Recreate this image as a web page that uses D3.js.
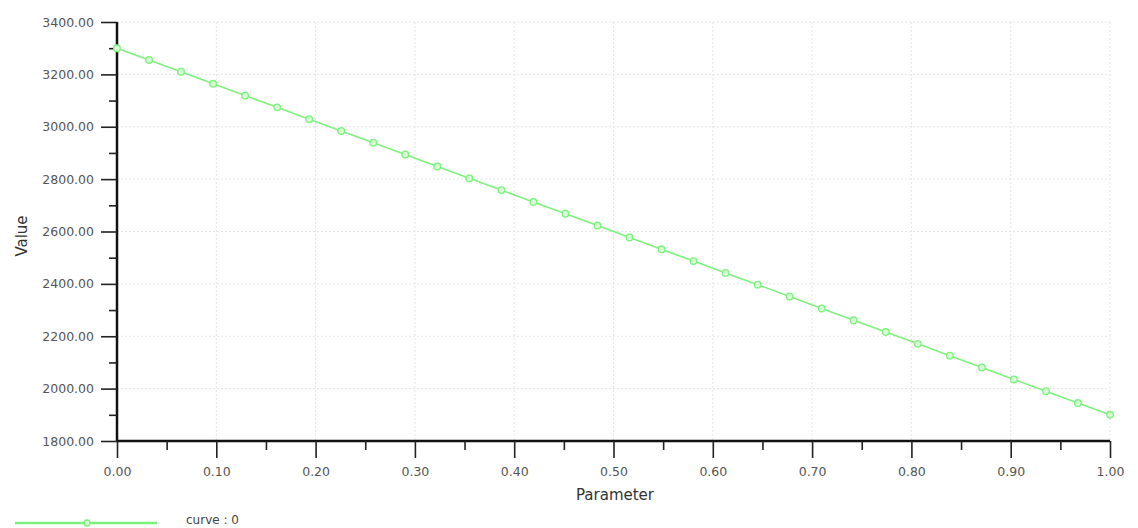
<!DOCTYPE html>
<html>
<head>
<meta charset="utf-8">
<script src="https://cdn.jsdelivr.net/npm/d3@7"></script>
<style>
  body { margin: 0; background: #fff; }
  text { font-family: "DejaVu Sans", Verdana, sans-serif; }
</style>
</head>
<body>
<script>
// curve : 0, sampled at t = i/31
var paramValues = [0, 0.0323, 0.0645, 0.0968, 0.129, 0.1613, 0.1935, 0.2258, 0.2581, 0.2903,
  0.3226, 0.3548, 0.3871, 0.4194, 0.4516, 0.4839, 0.5161, 0.5484, 0.5806, 0.6129,
  0.6452, 0.6774, 0.7097, 0.7419, 0.7742, 0.8065, 0.8387, 0.871, 0.9032, 0.9355,
  0.9677, 1];
var curveValues = [3300, 3255, 3210, 3164, 3119, 3074, 3029, 2984, 2939, 2894,
  2848, 2803, 2758, 2713, 2668, 2623, 2577, 2532, 2487, 2442,
  2397, 2352, 2306, 2261, 2216, 2171, 2126, 2081, 2035, 1990,
  1945, 1900];
var xTicks = [0, 0.1, 0.2, 0.3, 0.4, 0.5, 0.6, 0.7, 0.8, 0.9, 1.0];
var xMinor = [0.05, 0.15, 0.25, 0.35, 0.45, 0.55, 0.65, 0.75, 0.85, 0.95];
var yTicks = [1800, 2000, 2200, 2400, 2600, 2800, 3000, 3200, 3400];
var yMinor = [1900, 2100, 2300, 2500, 2700, 2900, 3100, 3300];
var seriesName = "curve : 0";

var W = 1138, H = 528;
var plotL = 117, plotR = 1110, plotT = 22, plotB = 441;
var green = "#7cf27c";

var svg = d3.select("body").append("svg").attr("width", W).attr("height", H);

var x = d3.scaleLinear().domain([0, 1]).range([plotL, plotR]);
var y = d3.scaleLinear().domain([1800, 3400]).range([plotB, plotT]);

// grid
svg.append("g").selectAll("line")
  .data(xTicks.slice(1))
  .enter().append("line")
    .attr("x1", function(d){ return x(d); }).attr("x2", function(d){ return x(d); })
    .attr("y1", plotT).attr("y2", plotB)
    .attr("stroke", "#e4e4e4").attr("stroke-dasharray", "2,2");
svg.append("g").selectAll("line")
  .data(yTicks.slice(1))
  .enter().append("line")
    .attr("x1", plotL).attr("x2", plotR)
    .attr("y1", function(d){ return y(d); }).attr("y2", function(d){ return y(d); })
    .attr("stroke", "#e4e4e4").attr("stroke-dasharray", "2,2");

// axes
var xAxis = svg.append("g").attr("transform", "translate(0," + plotB + ")")
  .call(d3.axisBottom(x).tickValues(xTicks).tickSize(17).tickPadding(9)
    .tickFormat(d3.format(".2f")));
svg.append("g").attr("transform", "translate(0," + plotB + ")")
  .call(d3.axisBottom(x).tickValues(xMinor).tickSize(9).tickFormat(""))
  .select(".domain").remove();
var yAxis = svg.append("g").attr("transform", "translate(" + plotL + ",0)")
  .call(d3.axisLeft(y).tickValues(yTicks).tickSize(16).tickPadding(7)
    .tickFormat(d3.format(".2f")));
svg.append("g").attr("transform", "translate(" + plotL + ",0)")
  .call(d3.axisLeft(y).tickValues(yMinor).tickSize(8).tickFormat(""))
  .select(".domain").remove();

svg.selectAll(".domain").attr("stroke", "#111").attr("stroke-width", 2.5);
svg.selectAll(".tick line").attr("stroke", "#222").attr("stroke-width", 1.6);
svg.selectAll(".tick text").attr("fill", "#555").style("font-size", "12.5px")
  .style("font-family", "DejaVu Sans, Verdana, sans-serif");
xAxis.select(".domain").attr("d", "M" + plotL + ",0H" + plotR);
yAxis.select(".domain").attr("d", "M0," + plotT + "V" + plotB);

// axis titles
svg.append("text")
  .attr("x", 615).attr("y", 500)
  .attr("text-anchor", "middle")
  .attr("fill", "#333").style("font-size", "15px")
  .text("Parameter");
svg.append("text")
  .attr("transform", "translate(27,236) rotate(-90)")
  .attr("text-anchor", "middle")
  .attr("fill", "#333").style("font-size", "15px")
  .text("Value");

// series
var data = paramValues.map(function(p, i){ return {x: p, y: curveValues[i]}; });
var line = d3.line()
  .x(function(d){ return x(d.x); })
  .y(function(d){ return y(d.y); });

svg.append("path")
  .attr("fill", "none")
  .attr("stroke", green)
  .attr("stroke-width", 1.6)
  .attr("d", line(data));

svg.selectAll("circle.pt")
  .data(data)
  .enter().append("circle")
    .attr("class", "pt")
    .attr("cx", function(d){ return x(d.x); })
    .attr("cy", function(d){ return y(d.y); })
    .attr("r", 3.3)
    .attr("fill", "#d8fbd8")
    .attr("stroke", green)
    .attr("stroke-width", 1.3);

// legend
var legend = svg.append("g");
legend.append("line")
  .attr("x1", 15).attr("x2", 157).attr("y1", 523).attr("y2", 523)
  .attr("stroke", green).attr("stroke-width", 2.5);
legend.append("circle")
  .attr("cx", 87).attr("cy", 523).attr("r", 3)
  .attr("fill", "#d8fbd8").attr("stroke", green).attr("stroke-width", 1.3);
legend.append("text")
  .attr("x", 186).attr("y", 524)
  .attr("fill", "#444").style("font-size", "12px")
  .text(seriesName);
</script>
</body>
</html>
